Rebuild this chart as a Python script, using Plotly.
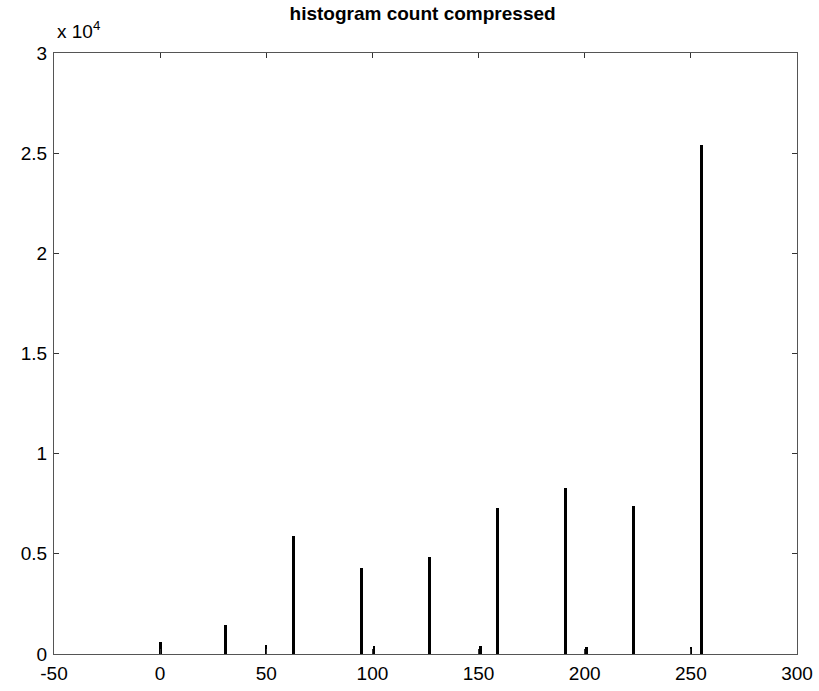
import plotly.graph_objects as go

# Data
main_bins = [0, 31, 63, 95, 127, 159, 191, 223, 255]
main_counts = [590, 1470, 5900, 4300, 4850, 7290, 8290, 7370, 25430]
minor_bins = [50, 101, 151, 201, 250]
minor_counts = [450, 400, 400, 350, 350]

x_ticks = [-50, 0, 50, 100, 150, 200, 250, 300]
x_tick_labels = ["-50", "0", "50", "100", "150", "200", "250", "300"]
y_ticks = [0, 5000, 10000, 15000, 20000, 25000, 30000]
y_tick_labels = ["0", "0.5", "1", "1.5", "2", "2.5", "3"]

font_family = "Liberation Sans, Arial, sans-serif"

fig = go.Figure()
fig.add_trace(go.Bar(x=main_bins, y=main_counts, width=1.4,
                     marker=dict(color="black", line=dict(width=0)),
                     showlegend=False))
fig.add_trace(go.Bar(x=minor_bins, y=minor_counts, width=0.8,
                     marker=dict(color="black", line=dict(width=0)),
                     showlegend=False))

axis_common = dict(showline=True, linecolor="#555555", linewidth=1,
                   mirror="ticks", ticks="inside", ticklen=5,
                   tickcolor="#333333", showgrid=False, zeroline=False,
                   automargin=False,
                   tickfont=dict(family=font_family, size=19, color="black"))

fig.update_layout(
    width=819, height=691,
    margin=dict(l=54, r=22, t=53, b=37),
    paper_bgcolor="white", plot_bgcolor="white",
    bargap=0,
    title=dict(text="<b>histogram count compressed</b>", x=0.516, xanchor="center",
               y=0.981, yanchor="middle",
               font=dict(family=font_family, size=19, color="black")),
    xaxis=dict(range=[-50, 300], tickvals=x_ticks, ticktext=x_tick_labels,
               ticklabelstandoff=2, **axis_common),
    yaxis=dict(range=[0, 30000], tickvals=y_ticks, ticktext=y_tick_labels,
               ticklabelstandoff=2, **axis_common),
    annotations=[dict(text="x 10<sup>4</sup>", xref="paper", yref="paper",
                      x=0.0, y=1.0, xanchor="left", yanchor="bottom",
                      xshift=1, yshift=9, showarrow=False,
                      font=dict(family=font_family, size=19, color="black"))],
)

fig.write_html("out.html")
